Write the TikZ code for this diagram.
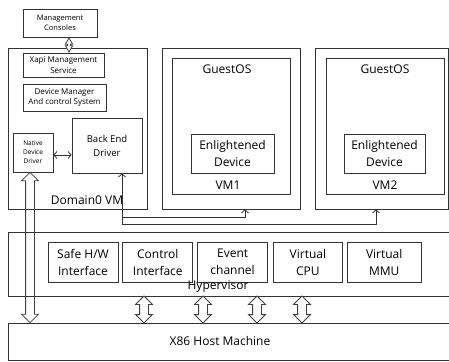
\documentclass[tikz,border=0pt]{standalone}
\usepackage{fontspec}
\setmainfont{Open Sans}
\usetikzlibrary{positioning, arrows.meta, shapes.arrows, calc}

\begin{document}
\begin{tikzpicture}[
    x=1pt, y=-1pt,
    >={Straight Barb[length=3pt, width=7pt]},
    box/.style={rectangle, draw=black!80, line width=0.8pt, fill=white, inner sep=0pt, align=center},
    lbl/.style={inner sep=0pt, align=center, font=\fontsize{12}{17}\selectfont},
    link/.style={draw=black!80, line width=0.8pt},
    fatarrow/.style={double arrow, draw=black!75, line width=0.8pt, fill=white, rotate=90, inner sep=4pt, double arrow head extend=4pt, minimum width=0pt}
]
\useasboundingbox (0,0) rectangle (449,361);
\clip (0,0) rectangle (449,361);

% Domain0 and its management stack
\node[box, minimum width=74pt, minimum height=28pt, font=\fontsize{7.5}{10}\selectfont] (cons) at (60,23) {Management\\Consoles};
\node[box, minimum width=139pt, minimum height=161pt] (dom0) at (77.5,128.5) {};
\node[box, minimum width=81pt, minimum height=24pt, font=\fontsize{8}{10.5}\selectfont] (xapi) at (63.5,65) {Xapi Management\\Service};
\node[box, minimum width=83pt, minimum height=27pt, font=\fontsize{8}{10.5}\selectfont] (devmgr) at (64.5,97.5) {Device Manager\\And control System};
\node[box, minimum width=40pt, minimum height=39pt, font=\fontsize{6.5}{9}\selectfont] (native) at (33,152.5) {Native\\Device\\Driver};
\node[box, minimum width=70pt, minimum height=55pt, font=\fontsize{9.5}{14}\selectfont] (backend) at (107,145.5) {Back End\\Driver};
\node[lbl, font=\fontsize{12}{16}\selectfont] (dom0name) at (87,200) {Domain0 VM};

% Guest VMs
\node[box, minimum width=138pt, minimum height=161pt] (vm1) at (231,128.5) {};
\node[box, minimum width=118pt, minimum height=136pt] (guest1) at (231,126) {};
\node[lbl] (os1) at (227,69) {GuestOS};
\node[box, lbl, minimum width=83pt, minimum height=39pt] (enl1) at (232.5,153.5) {Enlightened\\Device};
\node[lbl] (vmname1) at (228,185) {VM1};

\node[box, minimum width=133pt, minimum height=161pt] (vm2) at (381.5,128.5) {};
\node[box, minimum width=118pt, minimum height=136pt] (guest2) at (385,126) {};
\node[lbl] (os2) at (385,69) {GuestOS};
\node[box, lbl, minimum width=81pt, minimum height=39pt] (enl2) at (384.5,153.5) {Enlightened\\Device};
\node[lbl] (vmname2) at (385,185) {VM2};

% Hypervisor layer
\node[box, minimum width=452pt, minimum height=64pt] (hyp) at (234,264) {};
\node[box, lbl, minimum width=70pt, minimum height=40pt] (safe) at (83,262) {Safe H/W\\Interface};
\node[box, lbl, minimum width=70pt, minimum height=40pt, right=4pt of safe] (ctrl) {Control\\Interface};
\node[box, lbl, minimum width=70pt, minimum height=40pt, right=4pt of ctrl] (evt) {Event\\channel};
\node[box, lbl, minimum width=69pt, minimum height=40pt, right=5pt of evt] (vcpu) {Virtual\\CPU};
\node[box, lbl, minimum width=74pt, minimum height=40pt, right=4pt of vcpu] (vmmu) {Virtual\\MMU};
\node[lbl] (hypname) at (218,287) {Hypervisor};

% Host machine
\node[box, minimum width=452pt, minimum height=37pt] (host) at (234,341.5) {};
\node[lbl] (hostname) at (220,341) {X86 Host Machine};

% Hollow arrows down to the host
\foreach \x [count=\i] in {144,203,257,302}
  \node[fatarrow, minimum height=27pt] (bus\i) at (\x,309.5) {};
\path let \p1=(native.south), \p2=(host.north) in
  node[fatarrow, fill=none, minimum height={\y1-\y2}] (nativebus) at ({\x1-3pt},{0.5*\y1+0.5*\y2}) {};
\node[fatarrow, inner sep=1.2pt, double arrow head extend=2pt, double arrow tip angle=60, minimum height=14pt] (consarrow) at (69,45) {};

% Back end links
\draw[link, <->] ([xshift=15pt]backend.south) -- ++(0,51) -| ([xshift=-5.5pt]vm2.south);
\draw[link, ->] ([xshift=15pt]backend.south) ++(0,44) -| ([xshift=14pt]vm1.south);
\draw[link, <->] ([yshift=-2.5pt]native.east) -- ([yshift=-2.5pt]native.east -| backend.west);

\end{tikzpicture}
\end{document}
